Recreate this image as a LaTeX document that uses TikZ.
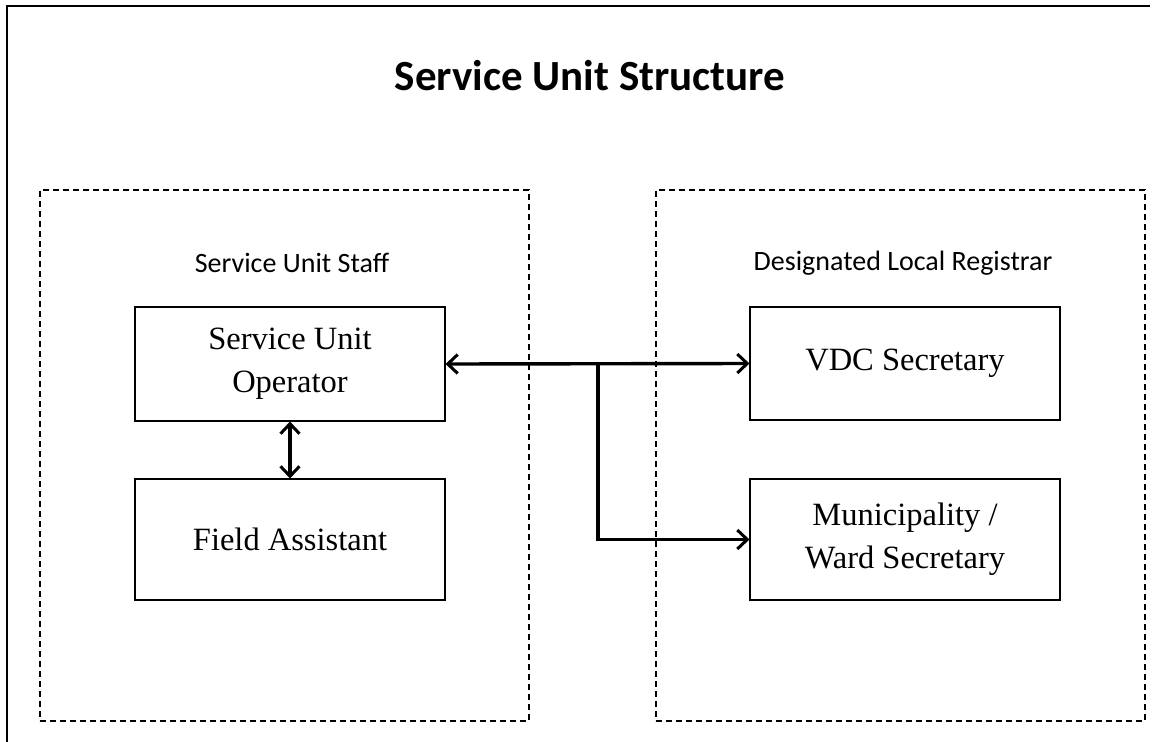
\documentclass[tikz,border=0pt]{standalone}
\usepackage{fontspec}
\setmainfont{Liberation Serif}
\newfontfamily\calib{Carlito}
\usetikzlibrary{arrows.meta}
\begin{document}
\begin{tikzpicture}[x=1pt,y=-1pt,
  box/.style={draw, line width=1.1pt, minimum width=310pt, align=center,
    font=\fontsize{32.5}{43}\selectfont, inner sep=0pt},
  group/.style={draw, dash pattern=on 6pt off 4pt, line width=1.1pt,
    minimum width=489pt, minimum height=531pt, inner sep=0pt},
  tip/.tip={Straight Barb[length=10pt,width=19pt,line width=3pt]},
  conn/.style={line width=3.4pt},
  frame/.style={line width=1.5pt},
  title/.style={font=\calib\bfseries\fontsize{43}{50}\selectfont},
  sub/.style={font=\calib\fontsize{28}{32}\selectfont}
]
\useasboundingbox (0,0) rectangle (1160,742);
\draw[frame] (7,742) -- (7,6) -- (1150,6);

\node[title] (ttl) at (590,76) {Service Unit Structure};

\node[group] (gl) at (284.5,455.5) {};
\node[group] (gr) at (900.5,455.5) {};

\node[sub] (sl) at (292,263) {Service Unit Staff};
\node[sub] (sr) at (903,263) {Designated Local Registrar};

\node[box, minimum height=114pt] (op) at (290,364) {Service Unit\\Operator};
\node[box, minimum height=121pt] (fa) at (290,539.5) {Field Assistant};
\node[box, minimum height=113pt] (vdc) at (905,363.5) {VDC Secretary};
\node[box, minimum height=121pt] (mun) at (905,539.5) {Municipality /\\Ward Secretary};

\coordinate (j) at (598,364);
\draw[conn, tip-tip] (op.east) -- (vdc.west);
\draw[conn, -tip] (j) |- (mun.west);
\draw[conn, tip-tip] (op.south) -- (fa.north);
\end{tikzpicture}
\end{document}
